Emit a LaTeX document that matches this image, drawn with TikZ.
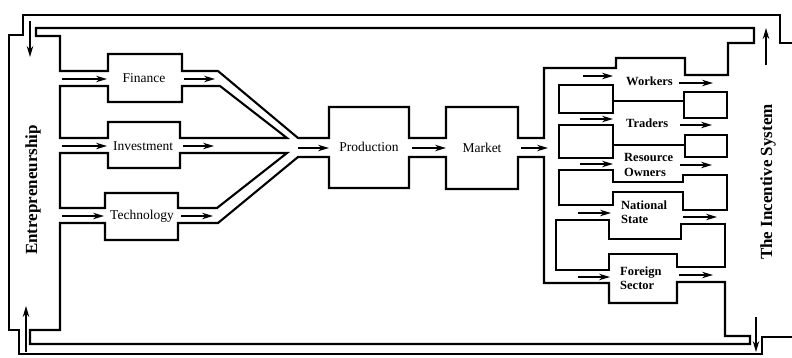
\documentclass[tikz,border=0pt]{standalone}
\usepackage{fontspec}
\setmainfont{Liberation Serif}
\usetikzlibrary{arrows.meta}
\begin{document}
\begin{tikzpicture}[x=1pt,y=-1pt,
  wall/.style={line width=2.1pt, line join=miter},
  flow/.style={line width=1.3pt,-{Stealth[length=11pt,width=6.5pt]}},
  lbl/.style={font=\fontsize{13.5}{15}\selectfont, inner sep=1pt},
  rlbl/.style={font=\fontsize{12.5}{14.5}\selectfont\bfseries, align=left, anchor=west, inner sep=0pt},
  side/.style={font=\fontsize{17}{19}\selectfont\bfseries, rotate=90, inner sep=0pt}]
\useasboundingbox (0,0) rectangle (792,357);

% ---------- outer loop wall ----------
\draw[wall] (792,43) -- (780,43) -- (780,15) -- (23,15) -- (23,35) -- (9,35)
  -- (9,330) -- (19,330) -- (19,354) -- (762,354) -- (762,337) -- (792,337);

% ---------- inner wall, upper part ----------
\draw[wall] (60,71) -- (60,36) -- (36,36) -- (36,28) -- (754,28) -- (754,43)
  -- (728,43) -- (728,75) -- (685,75) -- (685,58) -- (616,58) -- (616,68)
  -- (544,68) -- (544,138) -- (518,138) -- (518,107) -- (446,107) -- (446,138)
  -- (409,138) -- (409,107) -- (329,107) -- (329,138) -- (298,138) -- (218,71)
  -- (182,71) -- (182,54) -- (108,54) -- (108,71) -- cycle;

% ---------- inner wall, lower part ----------
\draw[wall] (60,223) -- (60,330) -- (30,330) -- (30,344) -- (750,344) -- (750,336)
  -- (725,336) -- (725,282) -- (677,282) -- (677,303) -- (609,303) -- (609,283)
  -- (544,283) -- (544,157) -- (518,157) -- (518,189) -- (446,189) -- (446,157)
  -- (409,157) -- (409,188) -- (329,188) -- (329,157) -- (298,157) -- (218,223)
  -- (178,223) -- (178,240) -- (105,240) -- (105,223) -- cycle;

% ---------- islands on the left ----------
\draw[wall] (60,86) -- (108,86) -- (108,102) -- (182,102) -- (182,86) -- (220,86)
  -- (287,138) -- (180,138) -- (180,122) -- (108,122) -- (108,138) -- (60,138) -- cycle;
\draw[wall] (60,153) -- (108,153) -- (108,168) -- (180,168) -- (180,153) -- (287,153)
  -- (217,208) -- (178,208) -- (178,193) -- (105,193) -- (105,208) -- (60,208) -- cycle;

% ---------- islands on the right ----------
\draw[wall] (559,85) rectangle (613,113);
\draw[wall] (684,92) rectangle (727,118);
\draw[wall] (613,101) -- (684,101);
\draw[wall] (559,125) rectangle (613,158);
\draw[wall] (685,135) rectangle (727,157);
\draw[wall] (613,145) -- (685,145);
\draw[wall] (559,170) -- (613,170) -- (613,182) -- (683,182) -- (683,175) -- (727,175)
  -- (727,210) -- (683,210) -- (683,192) -- (613,192) -- (613,205) -- (559,205) -- cycle;
\draw[wall] (556,220) -- (609,220) -- (609,239) -- (681,239) -- (681,224) -- (725,224)
  -- (725,267) -- (677,267) -- (677,254) -- (609,254) -- (609,270) -- (556,270) -- cycle;

% ---------- labels ----------
\node[lbl] (fin) at (144,78) {Finance};
\node[lbl] (inv) at (143,146) {Investment};
\node[lbl] (tec) at (142,216) {Technology};
\node[lbl] (pro) at (369,147) {Production};
\node[lbl] (mar) at (482,148) {Market};
\node[rlbl] (wor) at (626,81) {Workers};
\node[rlbl] (tra) at (626,123) {Traders};
\node[rlbl] (res) at (624,165) {Resource\\Owners};
\node[rlbl] (nat) at (621,212) {National\\State};
\node[rlbl] (for) at (620,278) {Foreign\\Sector};
\node[side] (ent) at (33,190) {Entrepreneurship};
\node[side] (inc) at (768,182) {The Incentive System};

% ---------- flow arrows ----------
\draw[flow] (62,79) -- (107,79);
\draw[flow] (184,79) -- (215,79);
\draw[flow] (62,146) -- (107,146);
\draw[flow] (183,146) -- (214,146);
\draw[flow] (62,216) -- (104,216);
\draw[flow] (181,216) -- (213,216);
\draw[flow] (298,148) -- (329,148);
\draw[flow] (412,148) -- (446,148);
\draw[flow] (521,148) -- (548,148);

\draw[flow] (583,76) -- (613,76);
\draw[flow] (679,83) -- (713,83);
\draw[flow] (580,119) -- (613,119);
\draw[flow] (680,125) -- (712,125);
\draw[flow] (580,164) -- (613,164);
\draw[flow] (680,165) -- (712,165);
\draw[flow] (578,213) -- (611,213);
\draw[flow] (683,217) -- (717,217);
\draw[flow] (578,277) -- (610,277);
\draw[flow] (679,275) -- (713,275);

\draw[flow] (30,21) -- (30,57);
\draw[flow] (26,352) -- (26,306);
\draw[flow] (766,65) -- (766,28);
\draw[flow] (756,317) -- (756,352);
\end{tikzpicture}
\end{document}
